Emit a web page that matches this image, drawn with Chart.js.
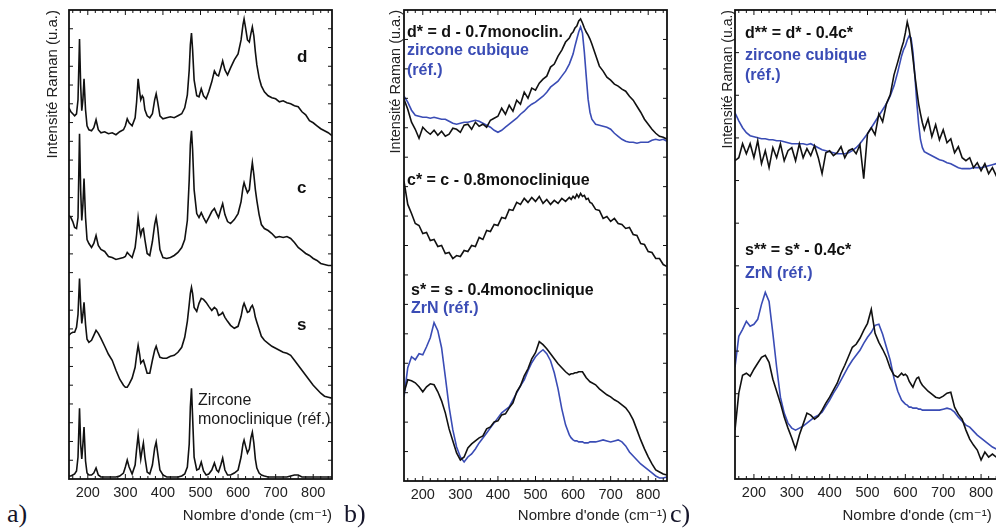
<!DOCTYPE html>
<html lang="fr">
<head>
<meta charset="utf-8">
<title>Spectres Raman</title>
<script src="https://cdn.jsdelivr.net/npm/chart.js@4.4.1/dist/chart.umd.min.js"></script>
<style>
  html, body { margin: 0; padding: 0; background: #fff; }
  body { position: relative; width: 996px; height: 529px; overflow: hidden; font-family: "Liberation Sans", Arial, sans-serif; }
  canvas { position: absolute; top: 0; }
  .lbl { position: absolute; white-space: nowrap; line-height: 18px; color: #111; }
  .b { font-weight: bold; font-size: 16px; }
  .blue { color: #3a4cb5; }
  .big { font-weight: bold; font-size: 17px; }
  .ref { font-size: 16px; color: #1a1a1a; }
  .panel { position: absolute; font-family: "Liberation Serif", "DejaVu Serif", serif; font-size: 26px; line-height: 26px; color: #15152a; }
</style>
</head>
<body>
<canvas id="panelA" width="300" height="529" style="left:40px"></canvas>
<canvas id="panelB" width="292" height="529" style="left:383px"></canvas>
<canvas id="panelC" width="296" height="529" style="left:716px"></canvas>

<div class="lbl big" style="left:297px;top:48px">d</div>
<div class="lbl big" style="left:297px;top:179px">c</div>
<div class="lbl big" style="left:297px;top:316px">s</div>
<div class="lbl ref" style="left:198px;top:391px">Zircone</div>
<div class="lbl ref" style="left:198px;top:410px">monoclinique (réf.)</div>

<div class="lbl b" style="left:407px;top:23px">d* = d - 0.7monoclin.</div>
<div class="lbl b blue" style="left:407px;top:41px">zircone cubique</div>
<div class="lbl b blue" style="left:407px;top:61px">(réf.)</div>
<div class="lbl b" style="left:407px;top:171px">c* = c - 0.8monoclinique</div>
<div class="lbl b" style="left:411px;top:281px">s* = s - 0.4monoclinique</div>
<div class="lbl b blue" style="left:411px;top:299px">ZrN (réf.)</div>

<div class="lbl b" style="left:745px;top:24px">d** = d* - 0.4c*</div>
<div class="lbl b blue" style="left:745px;top:46px">zircone cubique</div>
<div class="lbl b blue" style="left:745px;top:66px">(réf.)</div>
<div class="lbl b" style="left:745px;top:241px">s** = s* - 0.4c*</div>
<div class="lbl b blue" style="left:745px;top:264px">ZrN (réf.)</div>

<div class="panel" style="left:7px;top:501px">a)</div>
<div class="panel" style="left:344px;top:501px">b)</div>
<div class="panel" style="left:670px;top:501px">c)</div>

<script>
const FONT = '"Liberation Sans", Arial, "DejaVu Sans", sans-serif';
const BLACK = '#111';
const BLUE = '#3a4cb5';

const xTicks = [200, 300, 400, 500, 600, 700, 800];

// panel a : spectres bruts + référence monoclinique
const waveA = [150,155,160,165,170,174,178,181,184,187,
  190,194,198,203,210,216,222,228,235,245,
  255,265,275,285,295,300,305,310,318,326,
  330,334,338,341,345,348,352,358,365,372,
  378,382,386,392,400,410,420,430,440,450,
  458,465,470,473,476,479,483,490,496,502,
  508,515,522,530,537,543,548,554,559,565,
  572,580,590,600,608,613,616,620,625,630,
  634,638,642,646,650,656,662,670,680,690,
  700,710,720,730,740,750,760,770,780,790,
  800,810,820,830,840,850];
const specD = [372,368,366,364,366,380,441,395,369,380,
  401,370,354,350,349,352,360,350,347,348,
  346,347,345,348,350,354,361,357,354,362,
  378,401,388,380,384,382,370,364,362,366,
  380,386,378,364,361,362,363,362,364,366,
  372,385,410,435,447,430,400,384,383,391,
  384,381,388,398,409,405,404,412,419,410,
  405,412,420,426,440,455,461,452,440,438,
  446,453,444,428,415,402,394,388,384,382,
  381,378,379,377,376,374,373,368,365,359,
  357,354,351,349,347,344];
const specC = [264,262,258,252,251,262,346,290,259,275,
  301,262,240,236,232,236,244,234,230,228,
  223,222,220,221,222,223,227,225,222,232,
  245,262,250,244,250,251,240,226,224,238,
  255,262,252,230,222,221,222,224,227,232,
  240,259,300,335,349,330,290,266,262,267,
  262,257,262,268,271,266,262,270,276,265,
  258,256,260,266,278,292,297,292,287,290,
  305,317,305,290,279,265,255,251,249,246,
  242,243,242,243,241,237,232,229,226,224,
  221,219,216,215,214,214];
const specS = [144,146,147,147,152,165,201,175,156,165,
  177,155,140,137,139,144,149,146,141,133,
  125,119,109,100,94,92,92,95,101,112,
  124,134,125,116,118,119,114,106,106,119,
  129,133,128,122,121,121,123,124,127,132,
  142,158,175,186,192,186,172,168,176,181,
  180,177,173,169,172,170,164,165,167,162,
  158,154,151,153,163,173,176,172,167,168,
  172,174,170,162,157,150,143,139,136,133,
  131,129,127,126,124,119,114,109,104,99,
  94,90,86,83,82,81];
const refMono = [3,3,4,5,8,22,71,35,20,35,
  52,18,6,4,4,6,11,4,2,2,
  2,2,2,3,6,12,19,12,5,14,
  30,44,30,20,30,36,22,7,5,14,
  31,37,26,9,4,2,2,2,2,3,
  5,12,35,72,91,62,22,9,10,17,
  8,4,5,9,16,9,7,14,21,9,
  4,4,6,9,22,35,39,33,26,30,
  41,47,36,20,11,6,4,3,2,2,
  2,2,2,2,3,4,4,2,2,2,
  2,2,2,2,2,2];

// panels b et c : même grille en nombre d'onde
const waveBC = [150,160,170,180,190,200,210,220,230,240,
  250,260,270,280,290,300,310,320,330,340,
  350,360,370,380,390,400,410,420,430,440,
  450,460,470,480,490,500,510,520,530,540,
  550,560,570,580,590,
  595,600,605,610,615,620,625,630,635,640,645,
  650,660,670,680,690,700,710,720,730,740,
  750,760,770,780,790,800,810,820,830,840,850];

// panel b
const dStarB = [381,371,358,351,342,353,349,346,350,345,
  349,344,346,352,351,348,355,356,351,358,
  354,356,353,360,362,364,372,366,375,369,
  380,376,388,382,392,390,397,401,404,413,
  416,424,430,438,442,
  446,448,452,454,459,461,457,452,448,445,441,
  436,425,414,409,403,400,396,394,391,389,
  384,380,374,368,361,356,351,347,344,343,341];
const cubiqueB = [384,378,370,365,364,363,363,362,363,362,
  361,361,359,357,356,357,358,358,359,360,
  359,357,355,353,350,348,350,353,356,359,
  362,366,369,373,376,378,381,384,388,393,
  396,399,404,409,416,
  421,426,434,441,448,453,447,428,404,381,368,
  361,356,355,354,353,351,347,344,341,339,
  338,338,337,338,338,338,340,341,340,341,339];
const cStarB = [299,276,267,257,255,247,248,240,241,234,
  235,227,228,222,225,224,230,229,235,234,
  243,241,250,249,256,255,263,262,271,270,
  278,276,282,278,283,279,284,277,281,276,
  280,277,282,279,283,
  281,284,282,286,283,287,284,285,281,282,278,
  277,271,270,262,264,259,262,257,256,252,
  253,246,245,237,236,229,228,222,222,216,214];
const sStarB = [88,101,100,98,94,89,94,97,96,89,
  80,68,52,40,28,21,24,33,37,40,
  43,45,52,54,59,60,66,67,73,78,
  89,95,105,112,122,128,139,136,132,127,
  122,117,113,109,106,
  107,107,108,108,109,109,109,106,103,101,99,
  98,96,92,89,86,84,81,79,76,73,
  68,61,51,41,32,24,17,11,9,7,6];
const zrnB = [84,113,124,121,127,126,134,143,158,150,
  133,104,74,51,34,24,19,24,27,32,
  38,43,48,53,58,63,68,71,74,81,
  88,95,101,110,118,124,128,131,127,120,
  108,92,72,56,46,
  43,41,40,40,39,39,39,38,38,38,39,
  39,39,40,41,40,39,40,41,39,35,
  29,25,21,17,14,11,8,5,3,3,4];

// panel c
const dStar2C = [319,322,336,326,336,322,339,316,329,312,
  332,322,336,319,329,332,319,336,322,331,
  324,334,322,306,327,329,324,327,333,322,
  329,331,326,335,301,346,352,345,366,358,
  376,385,405,418,432,
  438,447,458,450,438,422,405,390,376,366,357,
  350,361,343,355,340,350,337,341,327,333,
  322,319,322,312,317,309,316,306,312,304,309];
const cubiqueC = [367,359,352,347,344,343,342,341,341,340,
  340,339,339,338,337,336,336,336,336,335,
  336,334,332,330,329,328,327,326,326,326,
  327,329,332,336,341,346,352,358,364,370,
  376,384,394,408,424,
  430,434,440,444,442,428,405,378,356,340,332,
  328,326,324,322,320,319,317,316,314,312,
  311,311,311,312,312,312,313,314,315,316,316];
const sStar2C = [49,86,104,106,103,110,116,122,124,117,
  100,88,76,62,51,41,30,44,55,66,
  64,60,63,69,76,82,89,96,106,114,
  123,132,135,141,149,156,170,146,137,130,
  122,111,104,102,106,
  104,105,103,98,95,92,97,101,102,97,94,
  92,88,85,82,81,83,86,87,72,65,
  60,49,40,34,29,19,27,22,25,22,21];
const zrnC = [112,143,150,158,153,155,160,175,187,178,
  146,112,82,66,56,51,49,51,53,56,
  59,62,64,67,73,79,86,92,99,106,
  113,119,124,129,136,142,147,154,155,145,
  132,119,101,88,79,
  77,75,74,72,72,71,71,71,70,70,69,
  69,69,69,69,69,70,71,70,67,62,
  58,54,52,48,44,41,38,35,32,30,29];

// cadre + petites graduations vers l'intérieur
const frameTicks = {
  id: 'frameTicks',
  afterDraw(chart, args, opts) {
    const { ctx, chartArea: a, scales: { x, y } } = chart;
    ctx.save();
    ctx.strokeStyle = BLACK;
    ctx.lineWidth = 1;
    ctx.beginPath();
    for (let v = 160; v < 850; v += 20) {
      const px = x.getPixelForValue(v);
      const len = v % 100 === 0 ? 5 : 3;
      ctx.moveTo(px, a.top); ctx.lineTo(px, a.top + len);
      ctx.moveTo(px, a.bottom); ctx.lineTo(px, a.bottom - len);
    }
    const step = (y.max - y.min) / opts.yTicks;
    for (let i = 1; i < opts.yTicks; i++) {
      const py = y.getPixelForValue(y.min + i * step);
      ctx.moveTo(a.left, py); ctx.lineTo(a.left + 4, py);
      ctx.moveTo(a.right, py); ctx.lineTo(a.right - 4, py);
    }
    ctx.stroke();
    ctx.lineWidth = 1.8;
    ctx.strokeRect(a.left, a.top, a.width, a.height);
    ctx.restore();
  }
};

function line(xs, ys, color) {
  return {
    data: xs.map((x, i) => ({ x, y: ys[i] })),
    borderColor: color,
    borderWidth: 1.6,
    pointRadius: 0,
    tension: 0,
    fill: false
  };
}

function panel(id, datasets, cfg) {
  // eslint-disable-next-line no-new
  new Chart(document.getElementById(id), {
    type: 'line',
    data: { datasets },
    plugins: [frameTicks],
    options: {
      responsive: false,
      animation: false,
      devicePixelRatio: 1,
      layout: { padding: { top: 10, right: cfg.right, left: 0, bottom: 0 } },
      plugins: {
        legend: { display: false },
        tooltip: { enabled: false },
        frameTicks: { yTicks: cfg.yTicks }
      },
      scales: {
        x: {
          type: 'linear',
          min: 150,
          max: 850,
          afterBuildTicks: (s) => { s.ticks = xTicks.map((v) => ({ value: v })); },
          afterFit: (s) => { s.height = cfg.xh; },
          grid: { display: false, drawTicks: false },
          border: { display: false },
          ticks: { color: '#222', padding: 5, autoSkip: false, maxRotation: 0, font: { family: FONT, size: 14.5 } },
          title: {
            display: true,
            text: "Nombre d'onde (cm⁻¹)" + cfg.tail,
            align: 'end',
            color: '#222',
            font: { family: FONT, size: 15 },
            padding: { top: 0, bottom: 4 }
          }
        },
        y: {
          min: 0,
          max: 470,
          afterFit: (s) => { s.width = cfg.yw; },
          grid: { display: false, drawTicks: false },
          border: { display: false },
          ticks: { display: false },
          title: {
            display: true,
            text: 'Intensité Raman (u.a.)',
            align: 'end',
            color: '#222',
            font: { family: FONT, size: cfg.ts },
            padding: { top: 4, bottom: 0 }
          }
        }
      }
    }
  });
}

panel('panelA', [
  line(waveA, specD, BLACK),
  line(waveA, specC, BLACK),
  line(waveA, specS, BLACK),
  line(waveA, refMono, BLACK)
], { right: 8, yw: 29, xh: 50, yTicks: 25, ts: 15, tail: '' });

panel('panelB', [
  line(waveBC, dStarB, BLACK),
  line(waveBC, cubiqueB, BLUE),
  line(waveBC, cStarB, BLACK),
  line(waveBC, sStarB, BLACK),
  line(waveBC, zrnB, BLUE)
], { right: 8, yw: 21, xh: 48, yTicks: 16, ts: 14.5, tail: '' });

panel('panelC', [
  line(waveBC, dStar2C, BLACK),
  line(waveBC, cubiqueC, BLUE),
  line(waveBC, sStar2C, BLACK),
  line(waveBC, zrnC, BLUE)
], { right: 12, yw: 19, xh: 50, yTicks: 11, ts: 14, tail: '\u00a0\u00a0' });
</script>
</body>
</html>
